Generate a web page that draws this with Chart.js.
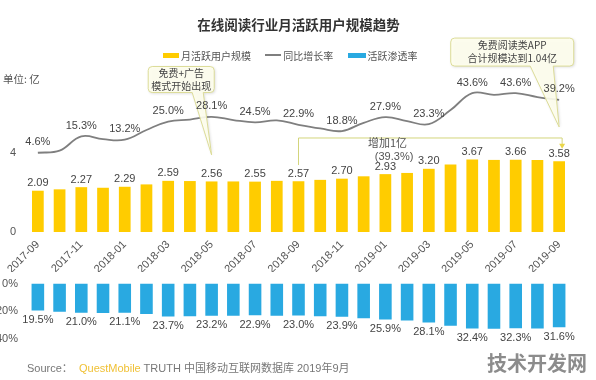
<!DOCTYPE html>
<html lang="zh">
<head>
    <meta charset="UTF-8">
    <title>在线阅读行业月活跃用户规模趋势</title>
    <script src="https://cdn.jsdelivr.net/npm/chart.js"></script>
    <style>
        body { margin: 0; background: #fff; }
        #wrap { position: relative; width: 596px; height: 380px; overflow: hidden; background: #fff;
            font-family: 'Liberation Sans', 'Noto Sans CJK SC', sans-serif; color: #555; }
        canvas { position: absolute; left: 0; display: block; }
        #topChart { top: 0; }
        #bottomChart { top: 268px; }
        .txt { position: absolute; white-space: nowrap; }
        #title { left: 0; width: 597px; top: 14px; text-align: center; font-size: 13.5px; font-weight: bold; color: #333;
            font-family: 'Noto Sans CJK SC', sans-serif; }
        #legend { left: 163px; top: 46px; font-size: 10px; font-family: 'Noto Sans CJK SC', sans-serif; color: #555; }
        #legend span.key { display: inline-block; vertical-align: middle; }
        #legend span.lbl { vertical-align: middle; margin-right: 12px; margin-left: 2px; }
        #unit { left: 3px; top: 71px; font-size: 10.5px; font-family: 'Noto Sans CJK SC', sans-serif; }
        #source { left: 27px; top: 359px; font-size: 11px; color: #777; }
        #source b { font-weight: normal; color: #f0c136; }
        #mark { left: 487px; top: 348px; font-size: 20px; font-weight: bold; color: #8c8c8c;
            font-family: 'Noto Sans CJK SC', sans-serif; }
    </style>
</head>
<body>
<div id="wrap">
    <canvas id="topChart" width="596" height="272"></canvas>
    <canvas id="bottomChart" width="596" height="90"></canvas>
    <div class="txt" id="title">在线阅读行业月活跃用户规模趋势</div>
    <div class="txt" id="legend">
        <span class="key" style="width:16px;height:5px;background:#FFCC00"></span><span class="lbl">月活跃用户规模</span>
        <span class="key" style="width:16px;height:2px;background:#7f7f7f"></span><span class="lbl">同比增长率</span>
        <span class="key" style="width:18px;height:5px;background:#29A9E1"></span><span class="lbl">活跃渗透率</span>
    </div>
    <div class="txt" id="unit">单位: 亿</div>
    <div class="txt" id="source">Source：&nbsp; <b>QuestMobile</b> TRUTH 中国移动互联网数据库 2019年9月</div>
    <div class="txt" id="mark">技术开发网</div>
</div>
<script>
// data
const months = ['2017-09', '2017-10', '2017-11', '2017-12', '2018-01', '2018-02', '2018-03', '2018-04', '2018-05',
    '2018-06', '2018-07', '2018-08', '2018-09', '2018-10', '2018-11', '2018-12', '2019-01', '2019-02', '2019-03',
    '2019-04', '2019-05', '2019-06', '2019-07', '2019-08', '2019-09'];
// 月活跃用户规模 (亿)
const mau = [2.09, 2.16, 2.27, 2.24, 2.29, 2.41, 2.59, 2.58, 2.56, 2.56, 2.55, 2.59, 2.57,
    2.64, 2.70, 2.82, 2.93, 2.99, 3.20, 3.42, 3.67, 3.65, 3.66, 3.65, 3.58];
// 同比增长率 (%)
const yoy = [4.6, 6.0, 15.3, 13.5, 13.2, 19.5, 25.0, 26.3, 28.1, 26.0, 24.5, 25.8, 22.9,
    20.5, 18.8, 24.2, 27.9, 25.3, 23.3, 32.5, 43.6, 42.5, 43.6, 41.0, 39.2];
// 活跃渗透率 (%)
const penetration = [19.5, 20.3, 21.0, 21.2, 21.1, 22.0, 23.7, 23.6, 23.2, 23.3, 22.9, 23.2, 23.0,
    23.5, 23.9, 25.0, 25.9, 26.6, 28.1, 30.5, 32.4, 32.6, 32.3, 32.5, 31.6];
const barTicks = [0, 4];

Chart.defaults.font.family = "'Liberation Sans', 'Noto Sans CJK SC', sans-serif";
Chart.defaults.color = '#555';

const cjk = "'Noto Sans CJK SC', sans-serif";

// numbers on every second bar / point
const valueLabels = {
    id: 'valueLabels',
    afterDatasetsDraw(chart) {
        const ctx = chart.ctx;
        ctx.save();
        ctx.font = '11px ' + Chart.defaults.font.family;
        ctx.fillStyle = '#444';
        ctx.textAlign = 'center';
        chart.data.datasets.forEach((ds, di) => {
            const meta = chart.getDatasetMeta(di);
            meta.data.forEach((el, i) => {
                if (i % 2) return;
                const v = ds.data[i];
                if (ds.labelPos === 'bottom') {
                    ctx.textBaseline = 'top';
                    ctx.fillText(ds.fmt(v), el.x, el.y + 4);
                } else {
                    ctx.textBaseline = 'bottom';
                    ctx.fillText(ds.fmt(v), el.x, el.y - (ds.labelPos === 'line' ? 5 : 2));
                }
            });
        });
        ctx.restore();
    }
};

// callout boxes and the bracket, placed through the scales
const callouts = [
    { lines: ['免费+广告', '模式开始出现'], at: [6.6, 7.72], w: 66, h: 26, base: [11, 22], tip: [8, 3.9] },
    { lines: ['免费阅读类APP', '合计规模达到1.04亿'], at: [21.84, 9.11], w: 123, h: 28, base: [18, 41], tip: [24, 5.32] }
];

const annotations = {
    id: 'annotations',
    afterDatasetsDraw(chart) {
        const ctx = chart.ctx;
        const x = chart.scales.x, y = chart.scales.y;
        ctx.save();

        // bracket: 增加1亿
        const lx = x.getPixelForValue(12), rx = x.getPixelForValue(24) + 3;
        const hy = y.getPixelForValue(4.76);
        ctx.strokeStyle = '#d3d57c';
        ctx.lineWidth = 1;
        ctx.beginPath();
        ctx.moveTo(lx, y.getPixelForValue(3.39));
        ctx.lineTo(lx, hy);
        ctx.lineTo(rx, hy);
        ctx.lineTo(rx, y.getPixelForValue(4.3));
        ctx.stroke();
        const ay = y.getPixelForValue(4.22);
        ctx.fillStyle = '#ead64a';
        ctx.beginPath();
        ctx.moveTo(rx - 3, ay - 5);
        ctx.lineTo(rx + 3, ay - 5);
        ctx.lineTo(rx, ay);
        ctx.closePath();
        ctx.fill();

        ctx.font = '11px ' + cjk;
        ctx.fillStyle = '#555';
        ctx.textAlign = 'center';
        ctx.textBaseline = 'middle';
        ctx.fillText('增加1亿', x.getPixelForValue(16.1), y.getPixelForValue(4.5));
        ctx.font = '11px ' + Chart.defaults.font.family;
        ctx.fillText('(39.3%)', x.getPixelForValue(16.4), y.getPixelForValue(3.8));

        // callouts
        callouts.forEach(c => {
            const cx = x.getPixelForValue(c.at[0]), cy = y.getPixelForValue(c.at[1]);
            const l = cx - c.w / 2, r = cx + c.w / 2, t = cy - c.h / 2, b = cy + c.h / 2;
            const tx = x.getPixelForValue(c.tip[0]), ty = y.getPixelForValue(c.tip[1]);
            const rad = 4;
            ctx.beginPath();
            ctx.moveTo(l + rad, t);
            ctx.lineTo(r - rad, t);
            ctx.quadraticCurveTo(r, t, r, t + rad);
            ctx.lineTo(r, b - rad);
            ctx.quadraticCurveTo(r, b, r - rad, b);
            ctx.lineTo(cx + c.base[1], b);
            ctx.lineTo(tx, ty);
            ctx.lineTo(cx + c.base[0], b);
            ctx.lineTo(l + rad, b);
            ctx.quadraticCurveTo(l, b, l, b - rad);
            ctx.lineTo(l, t + rad);
            ctx.quadraticCurveTo(l, t, l + rad, t);
            ctx.closePath();
            ctx.shadowColor = 'rgba(0,0,0,0.18)';
            ctx.shadowBlur = 3;
            ctx.shadowOffsetX = 1;
            ctx.shadowOffsetY = 1;
            ctx.fillStyle = 'rgba(255,255,238,0.9)';
            ctx.fill();
            ctx.shadowColor = 'transparent';
            ctx.strokeStyle = '#dcdc98';
            ctx.stroke();

            ctx.fillStyle = '#444';
            ctx.font = '10px ' + cjk;
            ctx.textAlign = 'center';
            ctx.textBaseline = 'middle';
            ctx.fillText(c.lines[0], cx, cy - 6.5);
            ctx.fillText(c.lines[1], cx, cy + 6.5);
        });
        ctx.restore();
    }
};

new Chart(document.getElementById('topChart'), {
    type: 'bar',
    data: {
        labels: months,
        datasets: [
            {
                type: 'line',
                label: '同比增长率',
                data: yoy,
                yAxisID: 'y1',
                borderColor: '#7f7f7f',
                borderWidth: 1.8,
                pointRadius: 0,
                tension: 0.4,
                fill: false,
                labelPos: 'line',
                fmt: v => v.toFixed(1) + '%'
            },
            {
                label: '月活跃用户规模',
                data: mau,
                yAxisID: 'y',
                backgroundColor: '#FFCC00',
                barPercentage: 0.54,
                categoryPercentage: 1,
                labelPos: 'top',
                fmt: v => v.toFixed(2)
            }
        ]
    },
    options: {
        responsive: false,
        animation: false,
        layout: { padding: { top: 74, right: 26, left: 0, bottom: 0 } },
        plugins: { legend: { display: false }, tooltip: { enabled: false } },
        scales: {
            x: {
                grid: { display: false, drawTicks: false },
                border: { display: false },
                ticks: {
                    autoSkip: false, minRotation: 45, maxRotation: 45, padding: 6,
                    color: '#555', font: { size: 11 },
                    callback: (v, i) => i % 2 === 0 ? months[i] : ''
                },
                afterFit: a => { a.height = 40; }
            },
            y: {
                min: 0, max: 8,
                grid: { display: false, drawTicks: false },
                border: { display: false },
                ticks: {
                    stepSize: 4, padding: 11, color: '#555', font: { size: 11 },
                    callback: v => barTicks.includes(v) ? v : ''
                },
                afterFit: a => { a.width = 27; }
            },
            y1: { display: false, min: -47.2, max: 56.1 }
        }
    },
    plugins: [annotations, valueLabels]
});

new Chart(document.getElementById('bottomChart'), {
    type: 'bar',
    data: {
        labels: months,
        datasets: [{
            label: '活跃渗透率',
            data: penetration,
            backgroundColor: '#29A9E1',
            barPercentage: 0.58,
            categoryPercentage: 1,
            labelPos: 'bottom',
            fmt: v => v.toFixed(1) + '%'
        }]
    },
    options: {
        responsive: false,
        animation: false,
        layout: { padding: { top: 9, right: 26, left: 0, bottom: 19 } },
        plugins: { legend: { display: false }, tooltip: { enabled: false } },
        scales: {
            x: { display: false },
            y: {
                reverse: true, min: 0, max: 40,
                grid: { display: false, drawTicks: false },
                border: { display: false },
                ticks: { stepSize: 20, padding: 9, color: '#555', font: { size: 11 }, callback: v => v + '%' },
                afterFit: a => { a.width = 27; }
            }
        }
    },
    plugins: [valueLabels]
});
</script>
</body>
</html>
